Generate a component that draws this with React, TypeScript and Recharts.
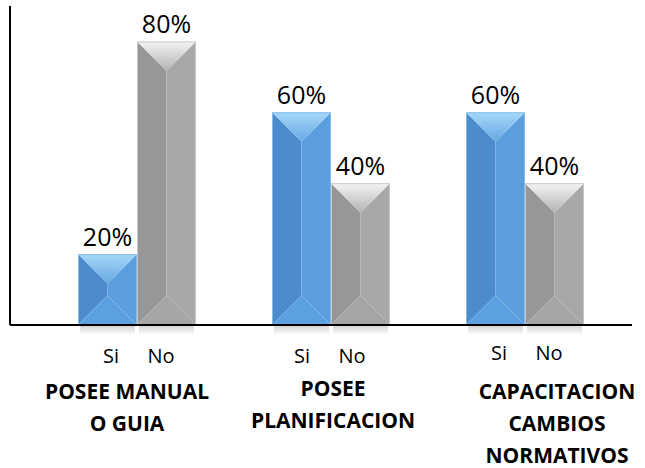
import React from 'react';
import { BarChart, Bar, XAxis, YAxis, LabelList } from 'recharts';

// categories, answers and percentages per question
const categoryLines = [
  ['POSEE MANUAL', 'O GUIA'],
  ['POSEE', 'PLANIFICACION'],
  ['CAPACITACION', 'CAMBIOS', 'NORMATIVOS'],
];
const seriesNames = ['Si', 'No'];
const siValues = [20, 60, 60];
const noValues = [80, 40, 40];

// small nudges so the wrapped titles sit like the original slide
const titleShift = [-10, 2, 32];
const titleLift = [0, -3, 0];
const answerShift = [0, -3, 0];
const answerLift = [0, 0, -3];

const data = categoryLines.map((lines, i) => ({
  name: lines.join(' '),
  si: siValues[i],
  no: noValues[i],
}));

const FONT = '"Open Sans", "Liberation Sans", sans-serif';

const palettes = {
  si: { left: '#4c8ccd', right: '#5a9edd', topFrom: '#a6d8f8', topTo: '#64a8e3', bottom: '#5ba1df', edge: '#86bbe8' },
  no: { left: '#979797', right: '#a8a8a8', topFrom: '#f4f4f4', topTo: '#b2b2b2', bottom: '#a5a5a5', edge: '#c6c6c6' },
};

const BevelBar = (props: any) => {
  const { x, y, width: w, height: h, index, pkey } = props;
  if (!h || h <= 0) return null;
  const p = palettes[pkey as 'si' | 'no'];
  const d = Math.min(w / 2, h / 2);
  const cx = x + w / 2;
  const gid = `bevel-top-${pkey}-${index}`;
  const sid = `bevel-shadow-${pkey}-${index}`;
  return (
    <g>
      <defs>
        <linearGradient id={gid} x1="0" y1="0" x2="0" y2="1">
          <stop offset="0%" stopColor={p.topFrom} />
          <stop offset="100%" stopColor={p.topTo} />
        </linearGradient>
        <linearGradient id={sid} x1="0" y1="0" x2="0" y2="1">
          <stop offset="0%" stopColor="#9a9a9a" stopOpacity={0.45} />
          <stop offset="100%" stopColor="#9a9a9a" stopOpacity={0} />
        </linearGradient>
      </defs>
      <rect x={x + 2} y={y + h} width={w - 4} height={10} fill={`url(#${sid})`} />
      <polygon points={`${x},${y} ${cx},${y + d} ${cx},${y + h - d} ${x},${y + h}`} fill={p.left} />
      <polygon points={`${x + w},${y} ${cx},${y + d} ${cx},${y + h - d} ${x + w},${y + h}`} fill={p.right} />
      <polygon points={`${x},${y + h} ${x + w},${y + h} ${cx},${y + h - d}`} fill={p.bottom} />
      <polygon points={`${x},${y} ${x + w},${y} ${cx},${y + d}`} fill={`url(#${gid})`} />
      <rect x={x + 0.5} y={y + 0.5} width={w - 1} height={h - 1} fill="none" stroke={p.edge} strokeWidth={1} />
    </g>
  );
};

const CategoryTick = (props: any) => {
  const { x, y, payload } = props;
  const i = payload.index;
  const lines = categoryLines[i];
  const lift = titleLift[i];
  return (
    <g>
      <text x={x - 26 + answerShift[i]} y={y + 36 + answerLift[i]} textAnchor="middle" fontSize={20} fontFamily={FONT} fill="#000">
        {seriesNames[0]}
      </text>
      <text x={x + 24 + answerShift[i]} y={y + 36 + answerLift[i]} textAnchor="middle" fontSize={20} fontFamily={FONT} fill="#000">
        {seriesNames[1]}
      </text>
      {lines.map((line, k) => (
        <text
          key={line}
          x={x + titleShift[i]}
          y={y + 72 + lift + k * 32}
          textAnchor="middle"
          fontSize={21}
          fontWeight={700}
          fontFamily={FONT}
          fill="#000"
        >
          {line}
        </text>
      ))}
    </g>
  );
};

const labelStyle = { fontSize: 25, fontFamily: FONT, fill: '#000' };

export default function App() {
  return (
    <div style={{ position: 'absolute', left: 0, top: 0, width: 645, height: 468, background: '#fff' }}>
      <BarChart
        width={645}
        height={468}
        data={data}
        margin={{ top: 6, right: 13, left: 0, bottom: 0 }}
        barGap={0}
        barSize={59}
      >
        <XAxis
          dataKey="name"
          height={143}
          padding={{ left: 30, right: 10 }}
          tickLine={false}
          tickSize={0}
          interval={0}
          axisLine={{ stroke: '#000', strokeWidth: 2 }}
          tick={<CategoryTick />}
        />
        <YAxis
          width={10}
          domain={[0, 90]}
          tick={false}
          tickLine={false}
          axisLine={{ stroke: '#000', strokeWidth: 2 }}
        />
        <Bar dataKey="si" name="Si" isAnimationActive={false} shape={(p: any) => <BevelBar {...p} pkey="si" />}>
          <LabelList dataKey="si" position="top" offset={8} formatter={(v: any) => `${v}%`} style={labelStyle} />
        </Bar>
        <Bar dataKey="no" name="No" isAnimationActive={false} shape={(p: any) => <BevelBar {...p} pkey="no" />}>
          <LabelList dataKey="no" position="top" offset={8} formatter={(v: any) => `${v}%`} style={labelStyle} />
        </Bar>
      </BarChart>
    </div>
  );
}
